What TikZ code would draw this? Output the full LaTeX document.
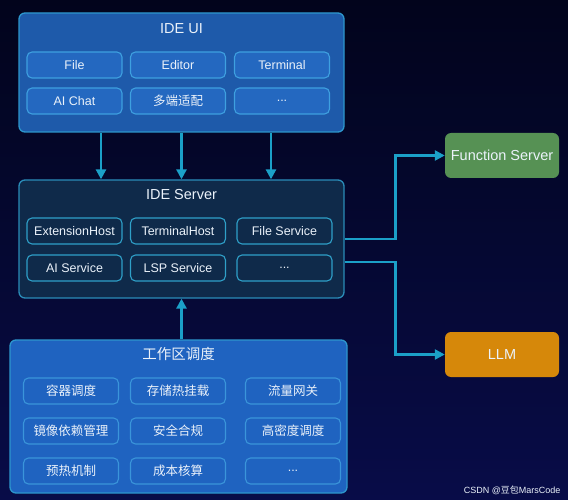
\documentclass[tikz,border=0pt]{standalone}
\usepackage{fontspec}
\setmainfont{Liberation Sans}
\newfontfamily\cjk{Noto Sans CJK SC}
\usepackage{tikz}
\usetikzlibrary{arrows.meta,positioning,calc}
\definecolor{bgtop}{RGB}{2,4,28}
\definecolor{bgbot}{RGB}{8,12,72}
\definecolor{uifill}{RGB}{30,90,170}
\definecolor{uiline}{RGB}{45,150,205}
\definecolor{uiinner}{RGB}{36,104,192}
\definecolor{uiinline}{RGB}{62,160,224}
\definecolor{srvfill}{RGB}{15,42,74}
\definecolor{srvline}{RGB}{42,140,184}
\definecolor{srvinline}{RGB}{47,160,200}
\definecolor{wsfill}{RGB}{31,99,192}
\definecolor{wsinline}{RGB}{58,149,218}
\definecolor{fsgreen}{RGB}{86,145,84}
\definecolor{llmorange}{RGB}{214,136,10}
\definecolor{arrcyan}{RGB}{27,160,200}
\definecolor{txtwhite}{RGB}{235,242,250}

\begin{document}
\begin{tikzpicture}[x=1pt,y=-1pt,
  layer/.style={rounded corners=6pt,line width=1.3pt,minimum width=#1},
  cell/.style={draw,rounded corners=5pt,line width=1.1pt,minimum width=95pt,minimum height=26pt,
    text=txtwhite,font=\fontsize{12.5}{14}\selectfont},
  title/.style={text=txtwhite,font=\fontsize{14.5}{17}\selectfont},
  ext/.style={rounded corners=6pt,minimum width=114pt,minimum height=45pt,
    text=txtwhite,font=\fontsize{14.5}{17}\selectfont},
  arr/.style={arrcyan,line width=2.8pt,-{Triangle[length=10pt,width=10pt]}},
  elbow/.style={arrcyan,line width=2.4pt,-{Triangle[length=10pt,width=10pt]}}]
\shade[top color=bgtop,bottom color=bgbot] (0,0) rectangle (568,500);
\useasboundingbox (0,0) rectangle (568,500);

\node[layer=325pt,minimum height=119pt,draw=uiline,fill=uifill] (ui) at (181.5,72.5) {};
\node[title] (uititle) at (181.5,29) {IDE UI};
\node[cell,draw=uiinline,fill=uiinner] (file) at (74.5,65) {File};
\node[cell,draw=uiinline,fill=uiinner] (editor) at (178,65) {Editor};
\node[cell,draw=uiinline,fill=uiinner] (term) at (282,65) {Terminal};
\node[cell,draw=uiinline,fill=uiinner] (aichat) at (74.5,101) {AI Chat};
\node[cell,draw=uiinline,fill=uiinner] (multi) at (178,101) {\cjk 多端适配};
\node[cell,draw=uiinline,fill=uiinner] (uimore) at (282,101) {...};

\node[layer=325pt,minimum height=118pt,draw=srvline,fill=srvfill] (server) at (181.5,239) {};
\node[title] (srvtitle) at (181.5,195) {IDE Server};
\node[cell,draw=srvinline,fill=srvfill] (exthost) at (74.5,231) {ExtensionHost};
\node[cell,draw=srvinline,fill=srvfill] (termhost) at (178,231) {TerminalHost};
\node[cell,draw=srvinline,fill=srvfill] (filesvc) at (284.5,231) {File Service};
\node[cell,draw=srvinline,fill=srvfill] (aisvc) at (74.5,268) {AI Service};
\node[cell,draw=srvinline,fill=srvfill] (lspsvc) at (178,268) {LSP Service};
\node[cell,draw=srvinline,fill=srvfill] (srvmore) at (284.5,268) {...};

\node[layer=337pt,minimum height=153pt,draw=uiline,fill=wsfill] (ws) at (178.5,416.5) {};
\node[title] (wstitle) at (178.5,354) {\cjk 工作区调度};
\node[cell,draw=wsinline,fill=wsfill] (sched) at (71,391) {\cjk 容器调度};
\node[cell,draw=wsinline,fill=wsfill] (mount) at (178,391) {\cjk 存储热挂载};
\node[cell,draw=wsinline,fill=wsfill] (gateway) at (293,391) {\cjk 流量网关};
\node[cell,draw=wsinline,fill=wsfill] (image) at (71,431) {\cjk 镜像依赖管理};
\node[cell,draw=wsinline,fill=wsfill] (secure) at (178,431) {\cjk 安全合规};
\node[cell,draw=wsinline,fill=wsfill] (dense) at (293,431) {\cjk 高密度调度};
\node[cell,draw=wsinline,fill=wsfill] (warm) at (71,471) {\cjk 预热机制};
\node[cell,draw=wsinline,fill=wsfill] (cost) at (178,471) {\cjk 成本核算};
\node[cell,draw=wsinline,fill=wsfill] (wsmore) at (293,471) {...};

\node[ext,fill=fsgreen] (fs) at (502,155.5) {Function Server};
\node[ext,fill=llmorange] (llm) at (502,354.5) {LLM};

\draw[arr] ([xshift=-80.5pt]ui.south) -- ([xshift=-80.5pt]server.north);
\draw[arr] (ui.south) -- (server.north);
\draw[arr] ([xshift=89.5pt]ui.south) -- ([xshift=89.5pt]server.north);
\draw[arr] (ws.north -| server.south) -- (server.south);
\draw[elbow] (server.east) -- ++(51,0) |- (fs.west);
\draw[elbow] ([yshift=-23pt]server.east) -- ++(51,0) |- (llm.west);

\node[text=txtwhite,font=\fontsize{9}{10}\selectfont,anchor=east] (mark) at (564,490) {CSDN @{\cjk 豆包}MarsCode};
\end{tikzpicture}
\end{document}
